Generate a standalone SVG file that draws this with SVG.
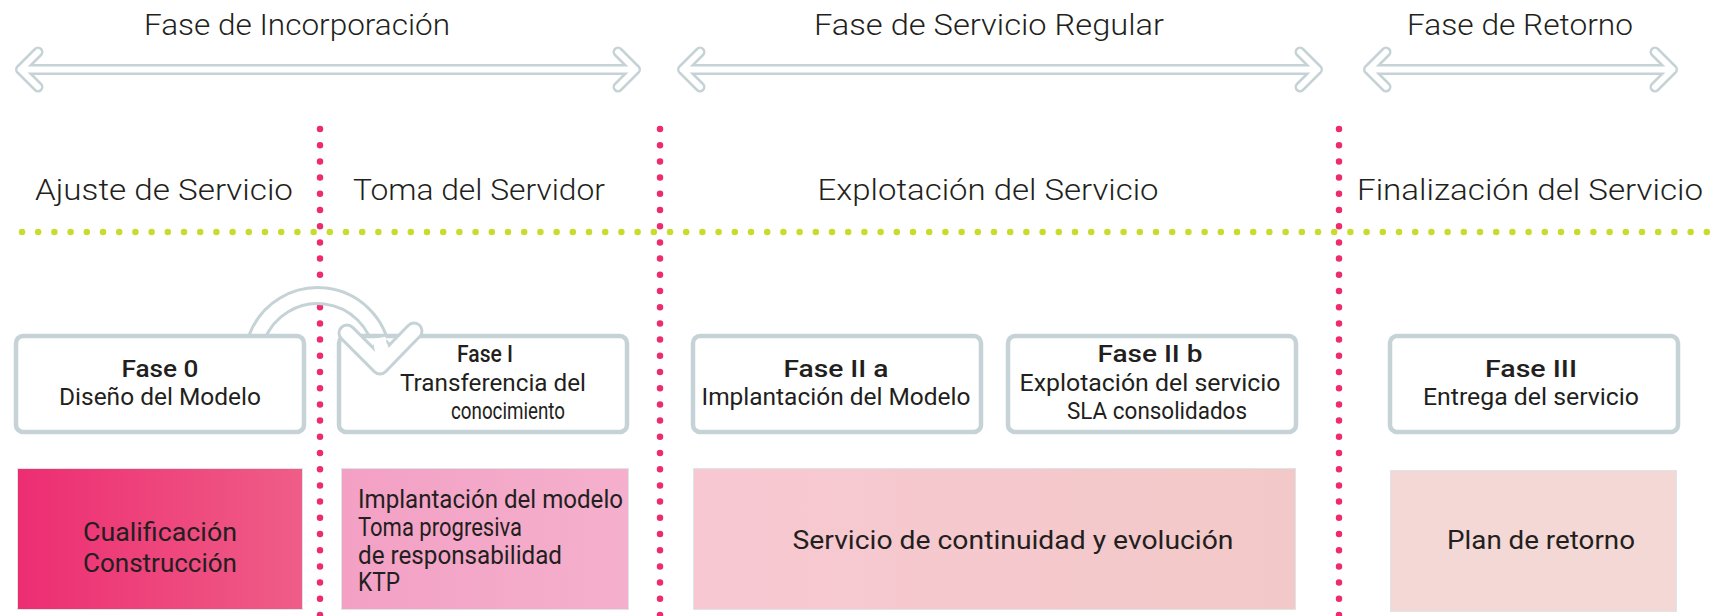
<svg xmlns="http://www.w3.org/2000/svg" width="1715" height="616" viewBox="0 0 1715 616">
<defs>
<style>
.t{font-family:Roboto,"Liberation Sans",sans-serif;font-weight:400;fill:#231f20;}
.title{font-size:29px;font-weight:300;}
.head{font-size:29px;font-weight:300;}
.bx{font-size:24px;}
.bb{font-size:24px;font-weight:500;}
.fl{font-size:25px;}
.ph{fill:#fff;stroke:#c5d3d6;stroke-width:4.5;}
.ag{fill:none;stroke:#c5d3d6;stroke-width:11;stroke-linejoin:round;stroke-linecap:round;}
.aw{fill:none;stroke:#fff;stroke-width:6;stroke-linejoin:round;stroke-linecap:round;}
.cg{fill:none;stroke:#c5d3d6;stroke-width:19;stroke-linejoin:round;}
.cw{fill:none;stroke:#fff;stroke-width:13;stroke-linejoin:round;}
.pd{stroke:#ec2b70;stroke-width:6.5;stroke-linecap:round;stroke-dasharray:0 16.2;fill:none;}
.gd{stroke:#c8dc2c;stroke-width:6.5;stroke-linecap:round;stroke-dasharray:0 16.2;fill:none;}
</style>
<linearGradient id="g1" x1="0" y1="0" x2="1" y2="0"><stop offset="0" stop-color="#ed2d72"/><stop offset="1" stop-color="#ef5d87"/></linearGradient>
<linearGradient id="g2" x1="0" y1="0" x2="1" y2="0"><stop offset="0" stop-color="#f3a0c4"/><stop offset="1" stop-color="#f5b0cd"/></linearGradient>
<linearGradient id="g3" x1="0" y1="0" x2="1" y2="0"><stop offset="0" stop-color="#f8c8d2"/><stop offset="1" stop-color="#f2c9c8"/></linearGradient>
</defs>
<rect width="1715" height="616" fill="#fff"/>

<g id="phase-arrows">
<path class="ag" d="M38,52 L20.5,69.5 L38,87 M20.5,69.5 H635.5 M618,52 L635.5,69.5 L618,87"/>
<path class="aw" d="M38,52 L20.5,69.5 L38,87 M20.5,69.5 H635.5 M618,52 L635.5,69.5 L618,87"/>
<path class="ag" d="M700,52 L682.5,69.5 L700,87 M682.5,69.5 H1317.5 M1300,52 L1317.5,69.5 L1300,87"/>
<path class="aw" d="M700,52 L682.5,69.5 L700,87 M682.5,69.5 H1317.5 M1300,52 L1317.5,69.5 L1300,87"/>
<path class="ag" d="M1386,52 L1368.5,69.5 L1386,87 M1368.5,69.5 H1672.5 M1655,52 L1672.5,69.5 L1655,87"/>
<path class="aw" d="M1386,52 L1368.5,69.5 L1386,87 M1368.5,69.5 H1672.5 M1655,52 L1672.5,69.5 L1655,87"/>
</g>

<g id="titles">
<text class="t title" x="297" y="35" text-anchor="middle" textLength="306" lengthAdjust="spacingAndGlyphs">Fase de Incorporación</text>
<text class="t title" x="989" y="35" text-anchor="middle" textLength="350" lengthAdjust="spacingAndGlyphs">Fase de Servicio Regular</text>
<text class="t title" x="1520" y="35" text-anchor="middle" textLength="226" lengthAdjust="spacingAndGlyphs">Fase de Retorno</text>
</g>

<g id="dividers">
<line class="gd" x1="22" y1="232" x2="1715" y2="232"/>
<line class="pd" x1="320" y1="129" x2="320" y2="620"/>
<line class="pd" x1="660" y1="129" x2="660" y2="620"/>
<line class="pd" x1="1339" y1="129" x2="1339" y2="620"/>
</g>

<g id="headings">
<text class="t head" x="164" y="200" text-anchor="middle" textLength="258" lengthAdjust="spacingAndGlyphs">Ajuste de Servicio</text>
<text class="t head" x="479" y="200" text-anchor="middle" textLength="252" lengthAdjust="spacingAndGlyphs">Toma del Servidor</text>
<text class="t head" x="988" y="200" text-anchor="middle" textLength="341" lengthAdjust="spacingAndGlyphs">Explotación del Servicio</text>
<text class="t head" x="1530" y="200" text-anchor="middle" textLength="346" lengthAdjust="spacingAndGlyphs">Finalización del Servicio</text>
</g>

<g id="connectors">
<path class="cg" d="M256,342 L257,337 A65,65 0 0 1 382,352"/>
<path class="cw" d="M256,342 L257,337 A65,65 0 0 1 382,352"/>
</g>

<g id="fase0">
<rect class="ph" x="16" y="336" width="288" height="96" rx="7"/>
<text class="t bb" x="160" y="377" text-anchor="middle" textLength="77" lengthAdjust="spacingAndGlyphs">Fase 0</text>
<text class="t bx" x="160" y="405" text-anchor="middle" textLength="202" lengthAdjust="spacingAndGlyphs">Diseño del Modelo</text>
</g>

<g id="fase1">
<rect class="ph" x="339" y="336" width="288" height="96" rx="7"/>
<text class="t bb" x="485" y="362" text-anchor="middle" textLength="56" lengthAdjust="spacingAndGlyphs">Fase I</text>
<text class="t bx" x="493" y="391" text-anchor="middle" textLength="186" lengthAdjust="spacingAndGlyphs">Transferencia del</text>
<text class="t bx" x="508" y="419" text-anchor="middle" textLength="114" lengthAdjust="spacingAndGlyphs">conocimiento</text>
</g>

<g id="connector-head">
<path class="cg" d="M382,348 L380,364 M347,333 L380,366 L414,331" stroke-linecap="round"/>
<path class="cw" d="M382,348 L380,364 M347,333 L380,366 L414,331" stroke-linecap="round"/>
<path class="cw" d="M379,338 L382,354" stroke-width="11"/>
</g>

<g id="fase2a">
<rect class="ph" x="693" y="336" width="288" height="96" rx="7"/>
<text class="t bb" x="836" y="377" text-anchor="middle" textLength="105" lengthAdjust="spacingAndGlyphs">Fase II a</text>
<text class="t bx" x="836" y="405" text-anchor="middle" textLength="269" lengthAdjust="spacingAndGlyphs">Implantación del Modelo</text>
</g>

<g id="fase2b">
<rect class="ph" x="1008" y="336" width="288" height="96" rx="7"/>
<text class="t bb" x="1150" y="362" text-anchor="middle" textLength="105" lengthAdjust="spacingAndGlyphs">Fase II b</text>
<text class="t bx" x="1150" y="391" text-anchor="middle" textLength="261" lengthAdjust="spacingAndGlyphs">Explotación del servicio</text>
<text class="t bx" x="1157" y="419" text-anchor="middle" textLength="180" lengthAdjust="spacingAndGlyphs">SLA consolidados</text>
</g>

<g id="fase3">
<rect class="ph" x="1390" y="336" width="288" height="96" rx="7"/>
<text class="t bb" x="1531" y="377" text-anchor="middle" textLength="92" lengthAdjust="spacingAndGlyphs">Fase III</text>
<text class="t bx" x="1531" y="405" text-anchor="middle" textLength="216" lengthAdjust="spacingAndGlyphs">Entrega del servicio</text>
</g>

<g id="cualificacion">
<rect x="17.5" y="468.5" width="285" height="141" fill="url(#g1)" stroke="#dfe4e5" stroke-width="1"/>
<text class="t fl" x="160" y="541" text-anchor="middle" textLength="154" lengthAdjust="spacingAndGlyphs">Cualificación</text>
<text class="t fl" x="160" y="572" text-anchor="middle" textLength="154" lengthAdjust="spacingAndGlyphs">Construcción</text>
</g>

<g id="implantacion">
<rect x="341.5" y="468.5" width="287" height="141" fill="url(#g2)" stroke="#dfe4e5" stroke-width="1"/>
<text class="t fl" x="358" y="508" textLength="265" lengthAdjust="spacingAndGlyphs">Implantación del modelo</text>
<text class="t fl" x="358" y="536" textLength="164" lengthAdjust="spacingAndGlyphs">Toma progresiva</text>
<text class="t fl" x="358" y="564" textLength="204" lengthAdjust="spacingAndGlyphs">de responsabilidad</text>
<text class="t fl" x="358" y="591" textLength="42" lengthAdjust="spacingAndGlyphs">KTP</text>
</g>

<g id="servicio">
<rect x="693.5" y="468.5" width="602" height="141" fill="url(#g3)" stroke="#dfe4e5" stroke-width="1"/>
<text class="t fl" x="1013" y="549" text-anchor="middle" textLength="441" lengthAdjust="spacingAndGlyphs">Servicio de continuidad y evolución</text>
</g>

<g id="plan">
<rect x="1390.5" y="470.5" width="286" height="141" fill="#f4d8d6" stroke="#dfe4e5" stroke-width="1"/>
<text class="t fl" x="1541" y="549" text-anchor="middle" textLength="188" lengthAdjust="spacingAndGlyphs">Plan de retorno</text>
</g>
</svg>
